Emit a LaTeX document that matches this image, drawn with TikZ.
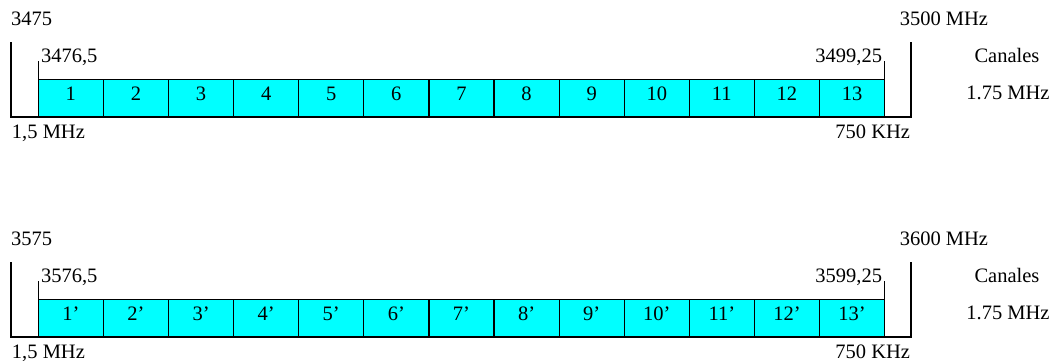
\documentclass[tikz,border=0pt]{standalone}
\usepackage{fontspec}
\setmainfont{Liberation Serif}
\usetikzlibrary{positioning}
\definecolor{canalfill}{HTML}{00FFFF}

\begin{document}
\begin{tikzpicture}[
  x=1pt,
  y=-1pt,
  every node/.style={font=\fontsize{20.5}{24}\selectfont, inner sep=0pt, outer sep=0pt},
  borde/.style={line width=1.2pt},
  canal/.style={draw, fill=canalfill, line width=1.2pt, minimum width=65.1pt,
    minimum height=37.4pt, text height=10pt, text depth=5pt}
]
  \useasboundingbox (0,0) rectangle (1056,360);

  % banda 3475 - 3500
  \coordinate (a0) at (38.3,98.4);
  \foreach \i [count=\j from 0] in {1,...,13}
    \node[canal, right=0pt of a\j] (a\i) {\i};

  \draw[borde] (11,42) |- (911,117) -- (911,42);
  \draw[borde] (a1.south west) -- ++(0,-56);
  \draw[borde] (a13.south east) -- ++(0,-56);

  \node[anchor=base west] (a-ini) at (11,25) {3475};
  \node[anchor=base east] (a-fin) at (988,25) {3500 MHz};
  \node[anchor=base west] (a-c1) at (41,62.5) {3476,5};
  \node[anchor=base east] (a-c13) at (882,62.5) {3499,25};
  \node[anchor=base] (a-canales) at (1007,62.5) {Canales};
  \node[anchor=base] (a-ancho) at (1008,99.3) {1.75 MHz};
  \node[anchor=base west] (a-guarda1) at (12,138) {1,5 MHz};
  \node[anchor=base east] (a-guarda2) at (910,138) {750 KHz};

  % banda 3575 - 3600
  \coordinate (b0) at (38.3,318.4);
  \foreach \i [count=\j from 0] in {1,...,13}
    \node[canal, right=0pt of b\j] (b\i) {\i’};

  \draw[borde] (11,262) |- (911,337) -- (911,262);
  \draw[borde] (b1.south west) -- ++(0,-56);
  \draw[borde] (b13.south east) -- ++(0,-56);

  \node[anchor=base west] (b-ini) at (11,245) {3575};
  \node[anchor=base east] (b-fin) at (988,245) {3600 MHz};
  \node[anchor=base west] (b-c1) at (41,282.5) {3576,5};
  \node[anchor=base east] (b-c13) at (882,282.5) {3599,25};
  \node[anchor=base] (b-canales) at (1007,282.5) {Canales};
  \node[anchor=base] (b-ancho) at (1008,319.3) {1.75 MHz};
  \node[anchor=base west] (b-guarda1) at (12,358) {1,5 MHz};
  \node[anchor=base east] (b-guarda2) at (910,358) {750 KHz};
\end{tikzpicture}
\end{document}
